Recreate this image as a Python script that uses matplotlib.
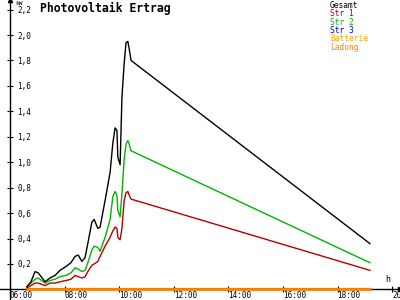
import matplotlib
matplotlib.use('Agg')
import matplotlib.pyplot as plt

zeiten = ["06:37", "06:46", "06:55", "07:02", "07:17", "07:28", "07:39", "07:50",
          "08:03", "08:14", "08:23", "08:30", "08:38", "08:45", "08:51", "09:00",
          "09:05", "09:13", "09:18", "09:29", "09:40", "09:46", "09:51", "09:55",
          "09:57", "10:02", "10:06", "10:11", "10:15", "10:19", "10:22", "10:26",
          "19:11"]
gesamt = [0.02, 0.06, 0.14, 0.13, 0.06, 0.09, 0.11, 0.15, 0.18, 0.21, 0.26, 0.27,
          0.22, 0.25, 0.36, 0.53, 0.55, 0.48, 0.49, 0.70, 0.92, 1.15, 1.27, 1.25,
          1.04, 0.98, 1.51, 1.78, 1.94, 1.95, 1.89, 1.80, 0.36]
str1 = [0.01, 0.03, 0.05, 0.05, 0.03, 0.05, 0.05, 0.06, 0.07, 0.08, 0.11, 0.10,
        0.09, 0.10, 0.14, 0.19, 0.20, 0.22, 0.26, 0.34, 0.41, 0.46, 0.49, 0.48,
        0.41, 0.39, 0.48, 0.70, 0.76, 0.77, 0.74, 0.71, 0.15]
str2 = [0.02, 0.05, 0.08, 0.09, 0.05, 0.07, 0.08, 0.10, 0.11, 0.13, 0.17, 0.16,
        0.14, 0.15, 0.21, 0.31, 0.34, 0.33, 0.30, 0.41, 0.55, 0.73, 0.77, 0.74,
        0.62, 0.57, 0.75, 1.03, 1.14, 1.17, 1.14, 1.09, 0.21]
null_zeiten = ["06:37", "19:11"]
str3 = [0.0, 0.0]
batterie = [0.0, 0.0]
ladung = [0.0, 0.0]

x_ticks = [6, 8, 10, 12, 14, 16, 18, 20]
x_labels = ["06:00", "08:00", "10:00", "12:00", "14:00", "16:00", "18:00", "20:00"]
y_ticks = [0.2, 0.4, 0.6, 0.8, 1.0, 1.2, 1.4, 1.6, 1.8, 2.0, 2.2]
y_labels = ["0,2", "0,4", "0,6", "0,8", "1,0", "1,2", "1,4", "1,6", "1,8", "2,0", "2,2"]

namen = ["Gesamt", "Str 1", "Str 2", "Str 3", "Batterie", "Ladung"]
farben = ["#000000", "#b40000", "#00b400", "#0000ff", "#ffa500", "#ff8000"]


def stunden(t):
    h, m = t.split(":")
    return int(h) + int(m) / 60


mono = "DejaVu Sans Mono"
fig = plt.figure(figsize=(4, 3), dpi=100)
ax = fig.add_axes([0, 0, 1, 1])
ax.set_xlim(5.6337, 20.2857)
ax.set_ylim(-0.0833, 2.2752)

t = [stunden(z) for z in zeiten]
t0 = [stunden(z) for z in null_zeiten]
ax.plot(t0, str3, color=farben[3], lw=1.5)
ax.plot(t0, batterie, color=farben[4], lw=1.5)
ax.plot(t0, ladung, color=farben[5], lw=1.8, zorder=5)
ax.plot(t, str1, color=farben[1], lw=1)
ax.plot(t, str2, color=farben[2], lw=1)
ax.plot(t, gesamt, color=farben[0], lw=1)

# Achsen
for s in ["top", "right"]:
    ax.spines[s].set_visible(False)
ax.spines["left"].set_position(("data", 6))
ax.spines["bottom"].set_position(("data", 0))
ax.spines["left"].set_linewidth(1)
ax.spines["bottom"].set_linewidth(1)
ax.plot(1, 0, ">k", ms=3, transform=ax.get_yaxis_transform(), clip_on=False)
ax.plot(6, 1, "^k", ms=3, transform=ax.get_xaxis_transform(), clip_on=False)

ax.set_xticks(x_ticks)
ax.set_xticklabels(x_labels, fontsize=5.5, family=mono)
ax.set_yticks(y_ticks)
ax.set_yticklabels(y_labels, fontsize=5.5, family=mono)
ax.tick_params(axis="x", direction="inout", length=4.3, width=0.8, pad=-0.7)
ax.tick_params(axis="y", direction="inout", length=4.3, width=0.8, pad=-7.2)
for lbl in ax.get_xticklabels():
    lbl.set_ha("left")
for lbl in ax.get_yticklabels():
    lbl.set_ha("left")

fig.text(15 / 400, 1 - 1 / 300, "kW", fontsize=4.5, family=mono, va="top")
fig.text(385 / 400, 1 - 284 / 300, "h", fontsize=6, family=mono, va="bottom")
fig.text(40 / 400, 1 - 2 / 300, "Photovoltaik Ertrag", fontsize=8.3,
         family=mono, weight="bold", va="top")

for i, (n, c) in enumerate(zip(namen, farben)):
    fig.text(330 / 400, 1 - (1 + 8.3 * i) / 300, n, fontsize=5.7,
             family=mono, color=c, va="top")

fig.savefig("out.png", dpi=100)
